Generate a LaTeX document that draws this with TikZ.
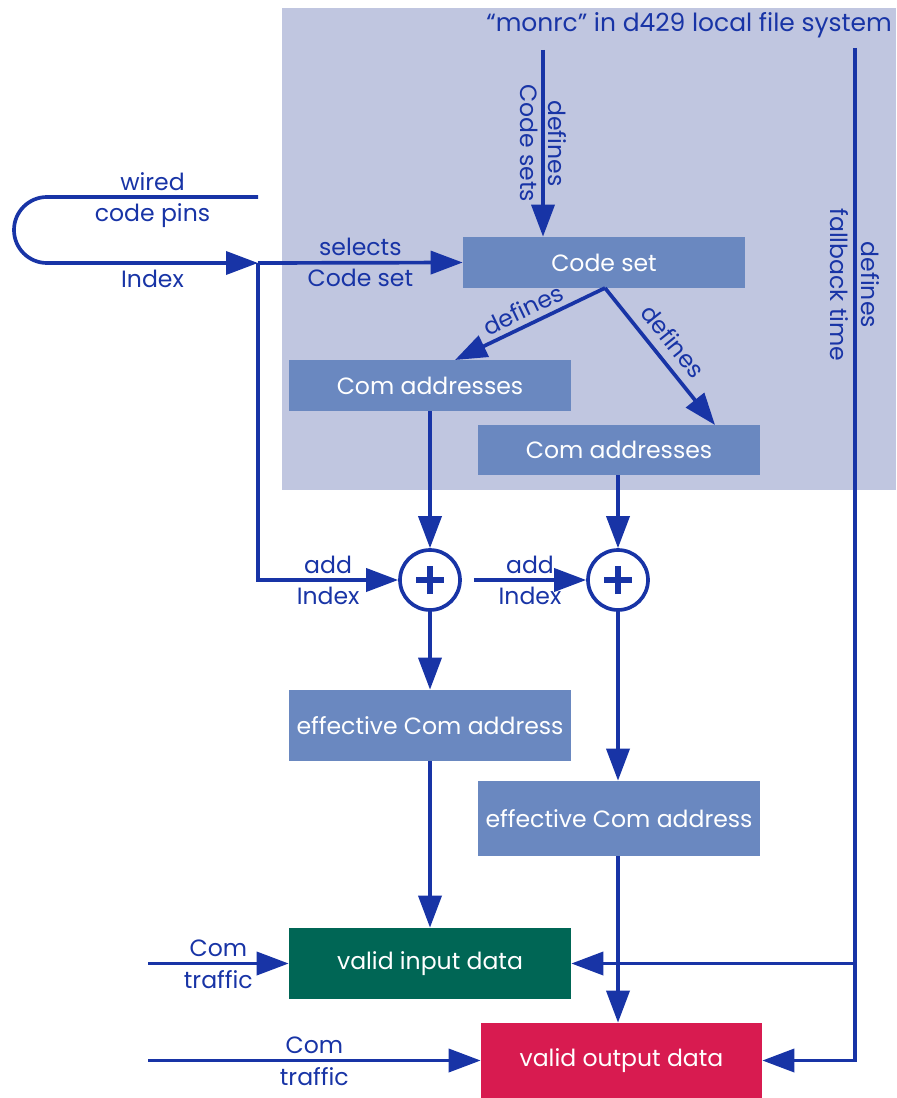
\documentclass[tikz,border=0pt]{standalone}
\usepackage{fontspec}
\setmainfont{Poppins}
\usetikzlibrary{arrows.meta}
\definecolor{lineblue}{RGB}{24,52,166}
\definecolor{panelc}{RGB}{192,198,224}
\definecolor{boxc}{RGB}{106,136,192}
\definecolor{greenc}{RGB}{0,102,85}
\definecolor{redc}{RGB}{216,27,80}
\begin{document}
\begin{tikzpicture}[x=0.02cm,y=-0.02cm,
  font=\fontsize{13.4}{15}\selectfont,
  ln/.style={draw=lineblue,line width=2.1pt},
  arr/.style={ln,-{Triangle[length=0.64cm,width=0.46cm]}},
  lbl/.style={text=lineblue,inner sep=2.8pt},
  box/.style={fill=boxc,text=white,inner sep=0pt,minimum width=5.64cm,minimum height=1.02cm},
  sumc/.style={circle,draw=lineblue,line width=2.1pt,fill=white,minimum size=1.2cm,inner sep=0pt}]
\useasboundingbox (0,0) rectangle (896,1098);
\fill[panelc] (282,8) rectangle (896,490);
\node[lbl,anchor=east,inner sep=1pt,font=\fontsize{14.2}{16}\selectfont] (title) at (894,25) {“monrc” in d429 local file system};
% boxes
\node[box] (codeset) at (604,262.5) {Code set};
\node[box] (com1) at (430,385.5) {Com addresses};
\node[box,minimum height=1.0cm] (com2) at (619,450) {Com addresses};
\node[box,minimum height=1.42cm] (eff1) at (430,725.5) {effective Com address};
\node[box,minimum height=1.5cm] (eff2) at (619,818.5) {effective Com address};
\node[box,fill=greenc,minimum height=1.42cm] (vin) at (430,963.5) {valid input data};
\node[box,fill=redc,minimum width=5.62cm,minimum height=1.5cm] (vout) at (621.5,1060.5) {valid output data};
\node[sumc] (c1) at (430,580) {};
\node[sumc] (c2) at (618,580) {};
\foreach \c in {c1,c2}{
  \draw[lineblue,line width=3.6pt] ([xshift=-0.28cm]\c.center) -- ([xshift=0.28cm]\c.center);
  \draw[lineblue,line width=3.6pt] ([yshift=-0.28cm]\c.center) -- ([yshift=0.28cm]\c.center);
}
% coordinates
\coordinate (t1) at (543,50);
\coordinate (fb) at (855,48);
\coordinate (j) at (258,263);
\coordinate (w1) at (258,197);
\coordinate (ct1) at (148,963.5);
\coordinate (ct2) at (148,1060.5);
\coordinate (cs) at (605,288);
% top arrow
\draw[arr] (t1) -- (codeset.north -| t1)
  node[lbl,midway,sloped,above,inner sep=2pt] {defines}
  node[lbl,midway,sloped,below,inner sep=2pt] {Code sets};
% fallback line
\draw[arr] (fb) -- (vout.east -| fb)
  node[lbl,pos=0.234,sloped,above,inner sep=2.5pt] {defines}
  node[lbl,pos=0.234,sloped,below,inner sep=2.5pt] {fallback time}
  -- (vout.east);
\draw[arr] (vin.east -| fb) -- (vin.east);
% code set defines
\draw[arr] (cs) -- (455,360) node[lbl,midway,sloped,above,inner sep=3pt] {defines};
\draw[arr] (cs) -- (715,425) node[lbl,pos=0.48,sloped,above,inner sep=5pt] {defines};
% loop
\draw[ln] (w1) -- (47,197) node[lbl,pos=0.5,above] {wired} node[lbl,pos=0.5,below] {code pins}
  arc (270:90:33);
\draw[arr] (47,263) -- (j) node[lbl,midway,below] {Index};
\draw[arr] (j) -- (codeset.west) node[lbl,midway,above] {selects} node[lbl,midway,below] {Code set};
\draw[arr] (j) |- (c1.west) node[lbl,pos=0.75,above] {add} node[lbl,pos=0.75,below] {Index};
\draw[arr] ([xshift=0.24cm]c1.east) -- (c2.west) node[lbl,midway,above] {add} node[lbl,midway,below] {Index};
% vertical flows
\draw[arr] (com1.south) -- (c1.north);
\draw[arr] (com2.south -| c2) -- (c2.north);
\draw[arr] (c1.south) -- (eff1.north);
\draw[arr] (c2.south) -- (eff2.north -| c2);
\draw[arr] (eff1.south) -- (vin.north);
\draw[arr] (eff2.south -| c2) -- (vout.north -| c2);
% com traffic
\draw[arr] (ct1) -- (vin.west) node[lbl,midway,above] {Com} node[lbl,midway,below] {traffic};
\draw[arr] (ct2) -- (vout.west) node[lbl,midway,above] {Com} node[lbl,midway,below] {traffic};
\end{tikzpicture}
\end{document}
